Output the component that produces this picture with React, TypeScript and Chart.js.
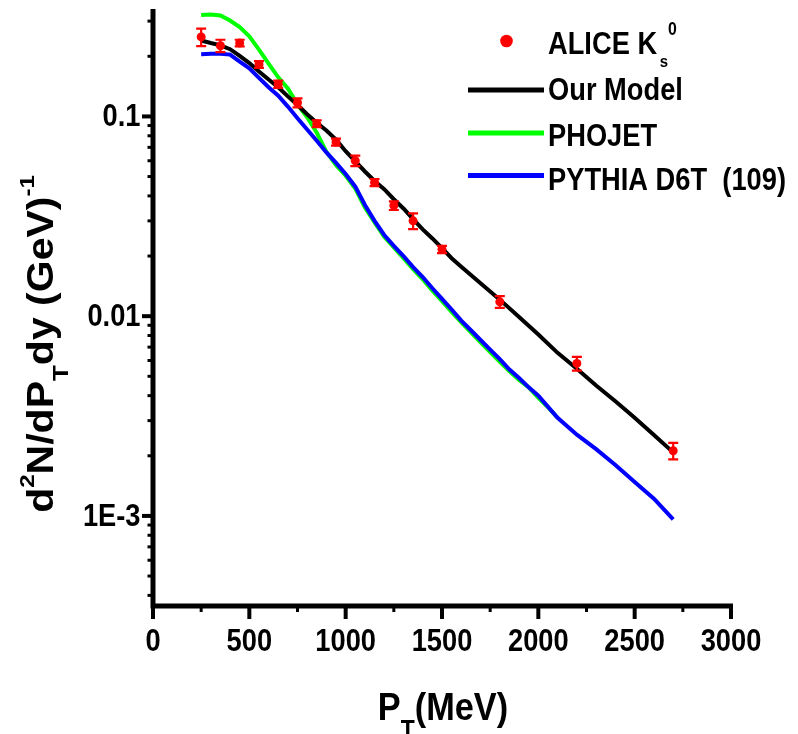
import React, { useEffect, useRef } from 'react';
import { Chart, registerables } from 'chart.js';

Chart.register(...registerables);

// ---------------- data ----------------
const ALICE_PT = [250, 350, 450, 550, 650, 750, 850, 950, 1050, 1150, 1250, 1350, 1500, 1800, 2200, 2700];
const ALICE_YIELD = [0.250, 0.226, 0.233, 0.182, 0.145, 0.117, 0.092, 0.0745, 0.060, 0.0467, 0.0358, 0.0300, 0.0216, 0.0118, 0.0058, 0.00212];
const ALICE_ERR = [0.025, 0.016, 0.009, 0.007, 0.006, 0.006, 0.0037, 0.003, 0.0036, 0.0019, 0.0018, 0.0027, 0.0009, 0.0008, 0.00046, 0.0002];

const MODEL_PT = [250, 300, 350, 400, 450, 500, 550, 600, 650, 700, 750, 800, 850, 900, 950, 1000, 1050, 1100, 1150, 1200, 1250, 1300, 1350, 1400, 1450, 1500, 1550, 1600, 1700, 1800, 1900, 2000, 2100, 2200, 2300, 2400, 2500, 2600, 2700];
const MODEL_YIELD = [0.240, 0.233, 0.227, 0.217, 0.201, 0.185, 0.168, 0.153, 0.140, 0.126, 0.114, 0.1025, 0.093, 0.085, 0.0765, 0.067, 0.0595, 0.053, 0.0475, 0.0432, 0.0385, 0.0346, 0.0306, 0.0272, 0.0245, 0.0219, 0.0195, 0.0177, 0.0146, 0.0121, 0.0099, 0.0081, 0.00655, 0.00545, 0.0045, 0.00375, 0.0031, 0.00254, 0.00208];

const PHOJET_PT = [250, 300, 350, 400, 450, 500, 550, 600, 650, 700, 750, 800, 850, 900, 950, 1000, 1050, 1100, 1150, 1200, 1250, 1300, 1350, 1400, 1450, 1500, 1550, 1600, 1650, 1700, 1750, 1800, 1850, 1900, 1950, 2000, 2050, 2100];
const PHOJET_YIELD = [0.322, 0.324, 0.320, 0.302, 0.280, 0.252, 0.216, 0.184, 0.157, 0.138, 0.115, 0.099, 0.0828, 0.0665, 0.057, 0.0505, 0.0435, 0.035, 0.0295, 0.0250, 0.0221, 0.0195, 0.0172, 0.0153, 0.0134, 0.0119, 0.0105, 0.0093, 0.0083, 0.0074, 0.0066, 0.0059, 0.0053, 0.0048, 0.0044, 0.0039, 0.0035, 0.0031];

const PYTHIA_PT = [250, 300, 350, 400, 450, 500, 550, 600, 650, 700, 750, 800, 850, 900, 950, 1000, 1050, 1100, 1150, 1200, 1250, 1300, 1350, 1400, 1450, 1500, 1550, 1600, 1650, 1700, 1750, 1800, 1850, 1900, 1950, 2000, 2100, 2200, 2300, 2400, 2500, 2600, 2700];
const PYTHIA_YIELD = [0.205, 0.206, 0.206, 0.204, 0.188, 0.174, 0.156, 0.140, 0.127, 0.112, 0.098, 0.086, 0.0755, 0.066, 0.0585, 0.0515, 0.0445, 0.036, 0.030, 0.0255, 0.0225, 0.0200, 0.0176, 0.0157, 0.0138, 0.0122, 0.0108, 0.0095, 0.0085, 0.0076, 0.0068, 0.0061, 0.0054, 0.0049, 0.0044, 0.0040, 0.0031, 0.00255, 0.00216, 0.00180, 0.00148, 0.00122, 0.00096];

const X_MIN = 0;
const X_MAX = 3000;
const X_TICKS = [0, 500, 1000, 1500, 2000, 2500, 3000];
const X_MINOR = [250, 750, 1250, 1750, 2250, 2750];
const Y_MIN = 3.54e-4;
const Y_MAX = 0.345;
const Y_TICKS = [0.1, 0.01, 0.001];
const Y_TICK_LABELS = ['0.1', '0.01', '1E-3'];

const LEGEND_LABELS = ['ALICE K', 'Our Model', 'PHOJET', 'PYTHIA D6T  (109)'];
const COLORS = { alice: '#ff0000', model: '#000000', phojet: '#00ff00', pythia: '#0000ff' };

// ---------------- drawing helpers ----------------
const FONT = '"Liberation Sans", Arial, sans-serif';
const SX = 0.88;

type Seg = { t: string; size: number; dy?: number; dx?: number; weight?: string };

function setFont(ctx: CanvasRenderingContext2D, s: Seg) {
  ctx.font = `${s.weight || 'bold'} ${s.size}px ${FONT}`;
}

function drawRich(
  ctx: CanvasRenderingContext2D,
  segs: Seg[],
  x: number,
  y: number,
  align: 'left' | 'center' | 'right',
  rot = 0,
  color = '#000'
) {
  ctx.save();
  ctx.translate(x, y);
  ctx.scale(SX, 1);
  if (rot) ctx.rotate(rot);
  const widths = segs.map((s) => {
    setFont(ctx, s);
    return ctx.measureText(s.t).width + (s.dx || 0);
  });
  const total = widths.reduce((a, b) => a + b, 0);
  let cx = align === 'left' ? 0 : align === 'center' ? -total / 2 : -total;
  ctx.fillStyle = color;
  ctx.textAlign = 'left';
  ctx.textBaseline = 'alphabetic';
  segs.forEach((s, i) => {
    setFont(ctx, s);
    ctx.fillText(s.t, cx + (s.dx || 0), s.dy || 0);
    cx += widths[i];
  });
  ctx.restore();
}

const decorPlugin = {
  id: 'decor',
  afterDatasetsDraw(chart: any) {
    const ctx: CanvasRenderingContext2D = chart.ctx;
    const xs = chart.scales.x;
    const ys = chart.scales.y;
    ctx.save();
    ctx.strokeStyle = COLORS.alice;
    ctx.lineWidth = 2.2;
    ALICE_PT.forEach((pt, i) => {
      const px = xs.getPixelForValue(pt);
      const top = ys.getPixelForValue(ALICE_YIELD[i] + ALICE_ERR[i]);
      const bot = ys.getPixelForValue(ALICE_YIELD[i] - ALICE_ERR[i]);
      ctx.beginPath();
      ctx.moveTo(px, top);
      ctx.lineTo(px, bot);
      ctx.moveTo(px - 5, top);
      ctx.lineTo(px + 5, top);
      ctx.moveTo(px - 5, bot);
      ctx.lineTo(px + 5, bot);
      ctx.stroke();
    });
    ctx.restore();
  },
  afterDraw(chart: any) {
    const ctx: CanvasRenderingContext2D = chart.ctx;
    const xs = chart.scales.x;
    const ys = chart.scales.y;
    const area = chart.chartArea;
    const ax = area.left;
    const ay = area.bottom;
    ctx.save();
    ctx.strokeStyle = '#000';
    ctx.lineCap = 'butt';

    // axis lines
    ctx.lineWidth = 5;
    ctx.beginPath();
    ctx.moveTo(ax, area.top);
    ctx.lineTo(ax, ay + 2.5);
    ctx.moveTo(ax - 2.5, ay);
    ctx.lineTo(xs.getPixelForValue(X_MAX) + 2, ay);
    ctx.stroke();

    // x ticks
    ctx.lineWidth = 4;
    X_TICKS.forEach((v) => {
      const p = xs.getPixelForValue(v);
      ctx.beginPath();
      ctx.moveTo(p, ay);
      ctx.lineTo(p, ay + 13);
      ctx.stroke();
    });
    ctx.lineWidth = 3;
    X_MINOR.forEach((v) => {
      const p = xs.getPixelForValue(v);
      ctx.beginPath();
      ctx.moveTo(p, ay);
      ctx.lineTo(p, ay + 6);
      ctx.stroke();
    });

    // y ticks
    ctx.lineWidth = 4;
    Y_TICKS.forEach((v) => {
      const p = ys.getPixelForValue(v);
      ctx.beginPath();
      ctx.moveTo(ax, p);
      ctx.lineTo(ax - 11, p);
      ctx.stroke();
    });
    ctx.lineWidth = 3;
    for (let d = -4; d <= -1; d++) {
      for (let m = 2; m <= 9; m++) {
        const v = m * Math.pow(10, d);
        if (v < Y_MIN || v > Y_MAX) continue;
        const p = ys.getPixelForValue(v);
        ctx.beginPath();
        ctx.moveTo(ax, p);
        ctx.lineTo(ax - 5.5, p);
        ctx.stroke();
      }
    }

    // tick labels
    X_TICKS.forEach((v) => {
      drawRich(ctx, [{ t: String(v), size: 31 }], xs.getPixelForValue(v), ay + 45, 'center');
    });
    Y_TICKS.forEach((v, i) => {
      drawRich(ctx, [{ t: Y_TICK_LABELS[i], size: 31 }], 140.5, ys.getPixelForValue(v) + 10, 'right');
    });

    // axis titles
    drawRich(
      ctx,
      [
        { t: 'P', size: 39 },
        { t: 'T', size: 26, dy: 18 },
        { t: '(MeV)', size: 39 },
      ],
      (area.left + area.right) / 2 + 1,
      720,
      'center'
    );
    drawRich(
      ctx,
      [
        { t: 'd', size: 41 },
        { t: '2', size: 24, dy: -22 },
        { t: 'N/dP', size: 41 },
        { t: 'T', size: 26, dy: 17 },
        { t: 'dy (GeV)', size: 41 },
        { t: '-1', size: 24, dy: -22 },
      ],
      53,
      344,
      'center',
      -Math.PI / 2
    );

    // legend
    const lx0 = 468;
    const lx1 = 544;
    const tx = 548;
    ctx.fillStyle = COLORS.alice;
    ctx.beginPath();
    ctx.arc(506.5, 41, 6.3, 0, Math.PI * 2);
    ctx.fill();
    drawRich(
      ctx,
      [
        { t: LEGEND_LABELS[0], size: 31 },
        { t: 's', size: 17, dy: 13, dx: 3 },
        { t: '0', size: 18, dy: -19 },
      ],
      tx,
      54,
      'left'
    );
    const rows = [
      { c: COLORS.model, ly: 90, ty: 100, label: LEGEND_LABELS[1] },
      { c: COLORS.phojet, ly: 133, ty: 146, label: LEGEND_LABELS[2] },
      { c: COLORS.pythia, ly: 175.5, ty: 190, label: LEGEND_LABELS[3] },
    ];
    rows.forEach((r) => {
      ctx.strokeStyle = r.c;
      ctx.lineWidth = 5;
      ctx.beginPath();
      ctx.moveTo(lx0, r.ly);
      ctx.lineTo(lx1, r.ly);
      ctx.stroke();
      drawRich(ctx, [{ t: r.label, size: 31 }], tx, r.ty, 'left');
    });

    ctx.restore();
  },
};

function pts(xs: number[], ys: number[]) {
  return xs.map((x, i) => ({ x, y: ys[i] }));
}

export default function App() {
  const ref = useRef<HTMLCanvasElement | null>(null);

  useEffect(() => {
    if (!ref.current) return;
    const chart = new Chart(ref.current, {
      type: 'scatter',
      data: {
        datasets: [
          {
            label: 'ALICE',
            data: pts(ALICE_PT, ALICE_YIELD),
            backgroundColor: COLORS.alice,
            borderColor: COLORS.alice,
            pointRadius: 4.5,
            pointBorderWidth: 0,
            showLine: false,
            order: 0,
          },
          {
            label: 'PYTHIA',
            data: pts(PYTHIA_PT, PYTHIA_YIELD),
            borderColor: COLORS.pythia,
            backgroundColor: COLORS.pythia,
            borderWidth: 4,
            pointRadius: 0,
            showLine: true,
            tension: 0,
            order: 1,
          },
          {
            label: 'Model',
            data: pts(MODEL_PT, MODEL_YIELD),
            borderColor: COLORS.model,
            backgroundColor: COLORS.model,
            borderWidth: 4,
            pointRadius: 0,
            showLine: true,
            tension: 0,
            order: 2,
          },
          {
            label: 'PHOJET',
            data: pts(PHOJET_PT, PHOJET_YIELD),
            borderColor: COLORS.phojet,
            backgroundColor: COLORS.phojet,
            borderWidth: 4,
            pointRadius: 0,
            showLine: true,
            tension: 0,
            order: 3,
          },
        ],
      },
      options: {
        responsive: false,
        animation: false,
        devicePixelRatio: 1,
        layout: { padding: { left: 0, right: 67, top: 9, bottom: 0 } },
        plugins: { legend: { display: false }, tooltip: { enabled: false }, title: { display: false } },
        scales: {
          x: {
            type: 'linear',
            min: X_MIN,
            max: X_MAX,
            grid: { display: false, drawTicks: false },
            border: { display: false },
            ticks: { display: false },
            afterFit: (s: any) => {
              s.height = 128;
            },
          },
          y: {
            type: 'logarithmic',
            min: Y_MIN,
            max: Y_MAX,
            grid: { display: false, drawTicks: false },
            border: { display: false },
            ticks: { display: false },
            afterFit: (s: any) => {
              s.width = 153;
            },
          },
        },
      } as any,
      plugins: [decorPlugin],
    });
    return () => chart.destroy();
  }, []);

  return (
    <div style={{ position: 'absolute', left: 0, top: 0, width: 798, height: 734, background: '#fff' }}>
      <canvas ref={ref} width={798} height={734} style={{ display: 'block', width: 798, height: 734 }} />
    </div>
  );
}
